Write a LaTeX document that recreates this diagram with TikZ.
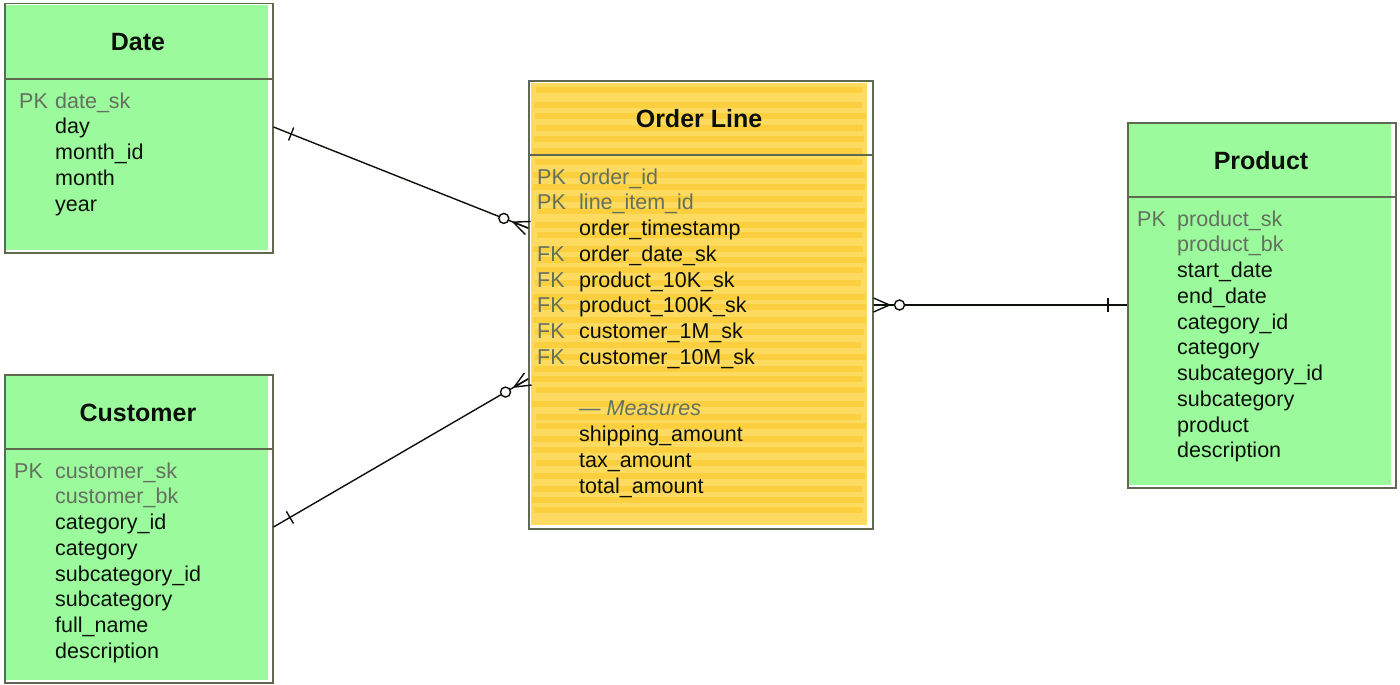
\documentclass[tikz,border=0pt]{standalone}
\usepackage{fontspec}
\setmainfont{Liberation Sans}
\usetikzlibrary{calc}
\definecolor{grn}{RGB}{155,250,155}
\definecolor{ylw}{RGB}{253,218,96}
\definecolor{ylwd}{RGB}{252,207,62}
\definecolor{bord}{RGB}{95,105,80}
\definecolor{keyc}{RGB}{100,112,96}
\definecolor{ink}{RGB}{12,16,10}
\tikzset{
 tbl/.style={draw=bord, line width=1.5pt, rectangle, inner sep=0pt, anchor=north west},
 ttl/.style={font=\fontsize{25}{30}\selectfont\bfseries, text=ink, inner sep=0pt},
 kcol/.style={font=\fontsize{21.5}{26}\selectfont, text=keyc, anchor=base west, inner sep=0pt},
 fld/.style={font=\fontsize{21.5}{26}\selectfont, text=ink, anchor=base west, inner sep=0pt},
 kfld/.style={fld, text=keyc},
 mfld/.style={fld, text=keyc, font=\fontsize{21.5}{26}\selectfont\itshape},
 conn/.style={draw=ink, line width=1.4pt},
 sepline/.style={draw=bord, line width=1.5pt},
}
\newcommand\erlink[2]{%
 \draw[conn] (#1) -- (#2);
 \draw[conn] ($(#1)!16pt!(#2)$) -- (#1)
   ($(#1)!16pt!(#2)$) -- ($(#1)!7pt!90:(#2)$)
   ($(#1)!16pt!(#2)$) -- ($(#1)!7pt!-90:(#2)$);
 \draw[conn,fill=white] ($(#1)!26pt!(#2)$) circle (5pt);
 \path ($(#2)!19pt!(#1)$) coordinate (tk);
 \draw[conn] ($(tk)!7pt!90:(#1)$) -- ($(tk)!7pt!-90:(#1)$);
}
\begin{document}
\begin{tikzpicture}[x=1pt,y=-1pt]
\useasboundingbox (0,0) rectangle (1400,685);
% fills
\fill[grn] (6,5) rectangle (268,250);
\fill[grn] (6,376) rectangle (268,680);
\fill[grn] (1129,124) rectangle (1391,485);
\fill[ylw] (531,83) rectangle (867,525);
\pgfmathsetseed{7}
\foreach \yy in {90,102,...,520}{
  \pgfmathsetmacro\xa{532+rnd*5}
  \pgfmathsetmacro\xb{861+rnd*5}
  \pgfmathsetmacro\dy{rnd*3}
  \draw[ylwd, line width=6pt] (\xa,\yy+\dy) -- (\xb,\yy+\dy);
}
% tables
\node[tbl, minimum width=268pt, minimum height=249pt] (date) at (4,3) {};
\node[tbl, minimum width=268pt, minimum height=308pt] (cust) at (4,374) {};
\node[tbl, minimum width=344pt, minimum height=448pt] (ol) at (528,80) {};
\node[tbl, minimum width=268pt, minimum height=365pt] (prod) at (1127,122) {};
\draw[sepline] (date.west |- 0,79) -- (date.east |- 0,79);
\draw[sepline] (cust.west |- 0,449) -- (cust.east |- 0,449);
\draw[sepline] (ol.west |- 0,155) -- (ol.east |- 0,155);
\draw[sepline] (prod.west |- 0,197) -- (prod.east |- 0,197);
% titles
\node[ttl] (date-t) at (138,42) {Date};
\node[ttl] (cust-t) at (138,413) {Customer};
\node[ttl] (ol-t) at (699,119) {Order Line};
\node[ttl] (prod-t) at (1261,161) {Product};
% Date rows
\node[kcol] (date-k0) at (19,108) {PK};
\foreach \n/\s [count=\i from 0] in {date\_sk/kfld, day/fld, month\_id/fld, month/fld, year/fld}
  \node[\s] (date-f\i) at (55,108+\i*25.75) {\n};
% Customer rows
\node[kcol] (cust-k0) at (14,478) {PK};
\foreach \n/\s [count=\i from 0] in {customer\_sk/kfld, customer\_bk/kfld, category\_id/fld, category/fld, subcategory\_id/fld, subcategory/fld, full\_name/fld, description/fld}
  \node[\s] (cust-f\i) at (55,478+\i*25.75) {\n};
% Order Line rows
\foreach \k/\i in {PK/0, PK/1, FK/3, FK/4, FK/5, FK/6, FK/7}
  \node[kcol] (ol-k\i) at (537,184+\i*25.75) {\k};
\foreach \n/\s/\i in {order\_id/kfld/0, line\_item\_id/kfld/1, order\_timestamp/fld/2, order\_date\_sk/fld/3, product\_10K\_sk/fld/4, product\_100K\_sk/fld/5, customer\_1M\_sk/fld/6, customer\_10M\_sk/fld/7, — Measures/mfld/9, shipping\_amount/fld/10, tax\_amount/fld/11, total\_amount/fld/12}
  \node[\s] (ol-f\i) at (579,184+\i*25.75) {\n};
% Product rows
\node[kcol] (prod-k0) at (1137,226) {PK};
\foreach \n/\s [count=\i from 0] in {product\_sk/kfld, product\_bk/kfld, start\_date/fld, end\_date/fld, category\_id/fld, category/fld, subcategory\_id/fld, subcategory/fld, product/fld, description/fld}
  \node[\s] (prod-f\i) at (1177,226+\i*25.75) {\n};
% connectors
\coordinate (c-date) at (date.east |- 0,127);
\coordinate (c-oldate) at (ol.west |- 0,228);
\coordinate (c-cust) at (cust.east |- 0,527);
\coordinate (c-olcust) at (ol.west |- 0,379);
\coordinate (c-olprod) at (ol.east |- 0,305);
\coordinate (c-prod) at (prod.west |- 0,305);
\erlink{c-oldate}{c-date}
\erlink{c-olcust}{c-cust}
\erlink{c-olprod}{c-prod}
\end{tikzpicture}
\end{document}
